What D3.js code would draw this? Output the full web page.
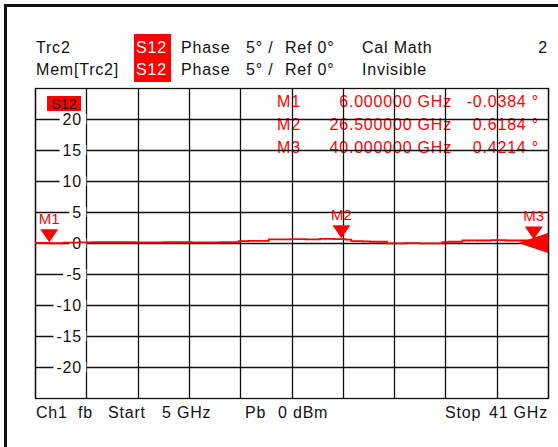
<!DOCTYPE html>
<html><head><meta charset="utf-8">
<script src="https://cdn.jsdelivr.net/npm/d3@7"></script>
<style>
html,body{margin:0;padding:0;background:#fff;}
svg text{font-family:"Liberation Sans",Arial,sans-serif;}
</style></head>
<body>
<svg id="c" width="558" height="447"></svg>
<script>
// ---- data ----
const freqGHz = [5, 6, 7, 8, 9, 10, 12, 14, 16, 18, 19, 19.3, 20, 21, 21.4, 22, 23, 24, 25, 26, 26.5, 26.8, 27.2, 28, 28.5, 29, 29.7, 30, 31, 32, 33, 33.6, 34, 35, 35.5, 36, 37, 38, 39, 40, 40.5, 41];
const phaseDeg = [0, -0.04, 0.05, 0.1, 0.12, 0.12, 0.1, 0.12, 0.1, 0.15, 0.15, 0.3, 0.35, 0.35, 0.6, 0.6, 0.62, 0.6, 0.65, 0.62, 0.62, 0.55, 0.3, 0.25, 0.2, 0.2, -0.05, -0.05, -0.03, -0.05, -0.05, 0.15, 0.2, 0.4, 0.42, 0.4, 0.45, 0.4, 0.4, 0.42, 0.2, 0.1];
const yTicks = [20, 15, 10, 5, 0, -5, -10, -15, -20];
const markerNames = ["M1", "M2", "M3"];
const markerFreq = [6, 26.5, 40];
const markerVal = [-0.0384, 0.6184, 0.4214];
const markerFreqText = ["6.000000 GHz", "26.500000 GHz", "40.000000 GHz"];
const markerValText = ["-0.0384 °", "0.6184 °", "0.4214 °"];
const startGHz = 5, stopGHz = 41, divisions = 10;

const svg = d3.select("#c");
const L = 35, R = 548, T = 88, B = 398;
const x = d3.scaleLinear().domain([startGHz, stopGHz]).range([L, R]);
const y = d3.scaleLinear().domain([25, -25]).range([T, B]);
const red = "#ff0000";
const font = 16;

// outer frame
svg.append("rect").attr("x", 4).attr("y", 4).attr("width", 560).attr("height", 3).attr("fill", "#111");
svg.append("rect").attr("x", 4).attr("y", 4).attr("width", 3).attr("height", 450).attr("fill", "#111");

// header
const hdr = svg.append("g").attr("font-size", font).attr("letter-spacing", "0.8px").attr("fill", "#111");
hdr.append("rect").attr("x", 134).attr("y", 34).attr("width", 37).attr("height", 48).attr("fill", red);
[[53, "Trc2", "Cal Math"], [75, "Mem[Trc2]", "Invisible"]].forEach(([by, a, b]) => {
  hdr.append("text").attr("x", 36).attr("y", by).text(a);
  hdr.append("text").attr("x", 136).attr("y", by).attr("fill", "#fff").text("S12");
  hdr.append("text").attr("x", 181).attr("y", by).text("Phase");
  hdr.append("text").attr("x", 246).attr("y", by).text("5° /");
  hdr.append("text").attr("x", 285).attr("y", by).text("Ref 0°");
  hdr.append("text").attr("x", 362).attr("y", by).text(b);
});
hdr.append("text").attr("x", 548).attr("y", 53).attr("text-anchor", "end").text("2");

// marker table text (drawn under grid)
const mt = svg.append("g").attr("font-size", font).attr("letter-spacing", "0.8px").attr("fill", red);
markerNames.forEach((m, i) => {
  const by = 107 + i * 23;
  mt.append("text").attr("x", 277).attr("y", by).text(m);
  mt.append("text").attr("x", 452).attr("y", by).attr("text-anchor", "end").text(markerFreqText[i]);
  mt.append("text").attr("x", 539).attr("y", by).attr("text-anchor", "end").text(markerValText[i]);
});

// grid
const xTicks = d3.range(divisions + 1).map(i => startGHz + i * (stopGHz - startGHz) / divisions);
const grid = svg.append("g").attr("stroke", "#111").attr("stroke-width", 1.3);
grid.selectAll("line.v").data(xTicks).join("line").attr("class", "v")
  .attr("x1", d => Math.round(x(d)) + 0.5).attr("x2", d => Math.round(x(d)) + 0.5).attr("y1", T).attr("y2", B);
grid.selectAll("line.h").data(yTicks).join("line").attr("class", "h")
  .attr("x1", L).attr("x2", R).attr("y1", d => Math.round(y(d)) + 0.5).attr("y2", d => Math.round(y(d)) + 0.5);
grid.append("rect").attr("x", L + 0.5).attr("y", T + 0.5).attr("width", R - L).attr("height", B - T).attr("fill", "none");

// y labels with white backing
const yl = svg.append("g").attr("font-size", font).attr("letter-spacing", "0.8px").attr("fill", "#111");
yTicks.forEach(v => {
  const t = yl.append("text").attr("x", 82).attr("y", y(v)).attr("dy", "0.36em").attr("text-anchor", "end").text(v);
  const bb = t.node().getBBox();
  yl.insert("rect", "text").attr("x", bb.x - 3).attr("y", y(v) - 5).attr("width", x(xTicks[1]) - (bb.x - 3)).attr("height", 10).attr("fill", "#fff");
});

// S12 tag
svg.append("rect").attr("x", 47).attr("y", 96).attr("width", 34).attr("height", 15).attr("fill", red);
svg.append("text").attr("x", 64).attr("y", 108.5).attr("text-anchor", "middle").attr("font-size", 14).attr("fill", "#111").text("S12");

// trace
svg.append("path").datum(freqGHz.map((f, i) => [f, phaseDeg[i]]))
  .attr("fill", "none").attr("stroke", red).attr("stroke-width", 1.8)
  .attr("d", d3.line().x(d => x(d[0])).y(d => y(d[1])).curve(d3.curveStepAfter));

// markers
const mk = svg.append("g").attr("fill", red);
markerNames.forEach((m, i) => {
  const mx = x(markerFreq[i]), my = y(markerVal[i]) - 1;
  mk.append("path").attr("d", `M${mx - 9},${my - 13}L${mx + 9},${my - 13}L${mx},${my}Z`);
  mk.append("text").attr("x", mx).attr("y", my - 18).attr("text-anchor", "middle").attr("font-size", 15).text(m);
});
// out-of-range indicator at right edge
const ry = y(0);
mk.append("path").attr("d", `M${R},${ry - 10}L${R},${ry + 10}L${R - 30},${ry}Z`);

// footer
const ft = svg.append("g").attr("font-size", font).attr("letter-spacing", "0.8px").attr("fill", "#111");
[[36, "Ch1"], [78, "fb"], [108, "Start"], [162, "5 GHz"], [245, "Pb"], [278, "0 dBm"], [445, "Stop"]].forEach(([tx, s]) => {
  ft.append("text").attr("x", tx).attr("y", 418).text(s);
});
ft.append("text").attr("x", 548).attr("y", 418).attr("text-anchor", "end").text("41 GHz");
</script>
</body></html>
